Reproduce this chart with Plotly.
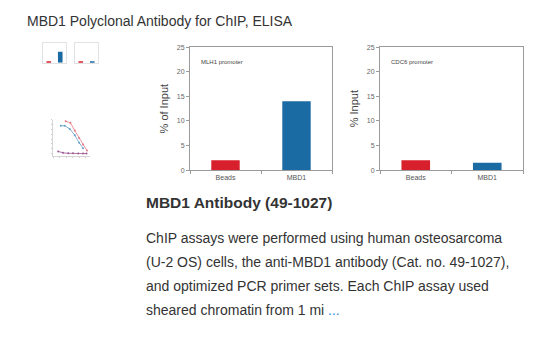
import plotly.graph_objects as go

W, H = 537, 360

# ---- data ----
categories = ["Beads", "MBD1"]
mlh1_values = [2.0, 14.0]
cdc6_values = [2.0, 1.5]
bar_colors = ["#d7202b", "#1a6aa3"]
y_ticks = [0, 5, 10, 15, 20, 25]

elisa_x_red = [2.9, 4.0, 5.0, 6.0, 6.9, 7.8]
elisa_red = [1.34, 1.27, 0.95, 0.64, 0.38, 0.13]
elisa_x_blue = [1.8, 2.7, 3.85, 5.0, 6.0, 6.9]
elisa_blue = [1.15, 1.15, 1.02, 0.76, 0.45, 0.22]
elisa_x_purple = [1.2, 2.3, 3.5, 4.6, 5.8, 6.9, 7.7]
elisa_purple = [0.09, 0.03, 0.01, 0.01, 0.0, 0.0, 0.0]

page_title = "MBD1 Polyclonal Antibody for ChIP, ELISA"
product_title = "MBD1 Antibody (49-1027)"
desc_lines = [
    "ChIP assays were performed using human osteosarcoma",
    "(U-2 OS) cells, the anti-MBD1 antibody (Cat. no. 49-1027),",
    "and optimized PCR primer sets. Each ChIP assay used",
    "sheared chromatin from 1 mi <span style='color:#3a8fd8'>...</span>",
]


def xd(a, b):
    return [a / W, b / W]


def yd(top, bottom):
    return [1 - bottom / H, 1 - top / H]


fig = go.Figure()
FONT = "Liberation Sans, Arial, sans-serif"

# main charts
main = [
    ("x", "y", mlh1_values, xd(190, 332), "% of Input", "MLH1 promoter"),
    ("x2", "y2", cdc6_values, xd(380, 523), "% Input", "CDC6 promoter"),
]
for xa, ya, vals, dom, ytitle, label in main:
    fig.add_trace(go.Bar(x=categories, y=vals, xaxis=xa, yaxis=ya,
                         marker=dict(color=bar_colors, line=dict(width=0)),
                         width=0.4, showlegend=False))
    xk = "xaxis" if xa == "x" else "xaxis" + xa[1:]
    yk = "yaxis" if ya == "y" else "yaxis" + ya[1:]
    fig.layout[xk] = dict(domain=dom, anchor=ya, showline=True, linecolor="#9a9a9a",
                          mirror=True, ticks="outside", ticklen=3, tickcolor="#9a9a9a",
                          tickson="boundaries", tickfont=dict(size=7, color="#555", family=FONT),
                          showgrid=False, fixedrange=True)
    fig.layout[yk] = dict(domain=yd(44, 169.5), anchor=xa, range=[0, 25], tickvals=y_ticks,
                          showline=True, linecolor="#9a9a9a", mirror=True, ticks="outside",
                          ticklen=3, tickcolor="#9a9a9a", showgrid=False, zeroline=False,
                          tickfont=dict(size=7, color="#666", family=FONT),
                          title=dict(text=ytitle, font=dict(size=11, color="#444", family=FONT), standoff=5))
    fig.add_annotation(text=label, xref=xa + " domain", yref=ya + " domain", x=0.06, y=0.88,
                       xanchor="left", yanchor="middle", showarrow=False,
                       font=dict(size=6, color="#444", family=FONT))

# thumbnail 1: two mini bar charts
thumbs = [("x3", "y3", mlh1_values, xd(43, 66)), ("x4", "y4", cdc6_values, xd(75, 98))]
for xa, ya, vals, dom in thumbs:
    fig.add_trace(go.Bar(x=categories, y=vals, xaxis=xa, yaxis=ya,
                         marker=dict(color=bar_colors, line=dict(width=0)),
                         width=0.4, showlegend=False))
    xk = "xaxis" + xa[1:]
    yk = "yaxis" + ya[1:]
    fig.layout[xk] = dict(domain=dom, anchor=ya, showline=True, linecolor="#e2e2e2", mirror=True,
                          showticklabels=False, ticks="", showgrid=False)
    fig.layout[yk] = dict(domain=yd(40, 60), anchor=xa, range=[0, 25], showline=True,
                          linecolor="#e2e2e2", mirror=True, showticklabels=False, ticks="",
                          showgrid=False, zeroline=False)

# thumbnail 2: ELISA curves
for xs, ys, col in [(elisa_x_red, elisa_red, "#e06070"),
                    (elisa_x_blue, elisa_blue, "#4a8fc0"),
                    (elisa_x_purple, elisa_purple, "#8a3a80")]:
    fig.add_trace(go.Scatter(x=xs, y=ys, xaxis="x5", yaxis="y5", mode="lines+markers",
                             line=dict(color=col, width=0.8), marker=dict(size=2, color=col),
                             opacity=0.85, showlegend=False))
fig.layout["xaxis5"] = dict(domain=xd(53, 90), anchor="y5", range=[0, 8.5], showline=True,
                            linecolor="#d5d5d5", mirror=False, showticklabels=False, ticks="outside",
                            ticklen=1, tickcolor="#ccc", dtick=1.5, showgrid=False, zeroline=False)
fig.layout["yaxis5"] = dict(domain=yd(118, 155), anchor="x5", range=[-0.1, 1.4], showline=True,
                            linecolor="#d5d5d5", mirror=False, showticklabels=False, ticks="outside",
                            ticklen=1, tickcolor="#ccc", dtick=0.2, showgrid=False, zeroline=False)

# page text
fig.add_annotation(text=page_title, xref="paper", yref="paper", x=25 / W, y=1 - 17 / H,
                   xanchor="left", yanchor="middle", showarrow=False,
                   font=dict(size=14, color="#333", family=FONT))
fig.add_annotation(text="<b>" + product_title + "</b>", xref="paper", yref="paper",
                   x=144 / W, y=1 - 202 / H, xanchor="left", yanchor="middle", showarrow=False,
                   font=dict(size=15.5, color="#333", family=FONT))
for i, line in enumerate(desc_lines):
    fig.add_annotation(text=line, xref="paper", yref="paper", x=144 / W, y=1 - (239 + 24.3 * i) / H,
                       xanchor="left", yanchor="middle", showarrow=False,
                       font=dict(size=14, color="#333", family=FONT))

fig.update_layout(width=W, height=H, margin=dict(l=0, r=0, t=0, b=0),
                  paper_bgcolor="white", plot_bgcolor="white", bargap=0.6)
fig.write_html("out.html", config={"displayModeBar": False},
               post_script="document.body.style.margin='0px';")
